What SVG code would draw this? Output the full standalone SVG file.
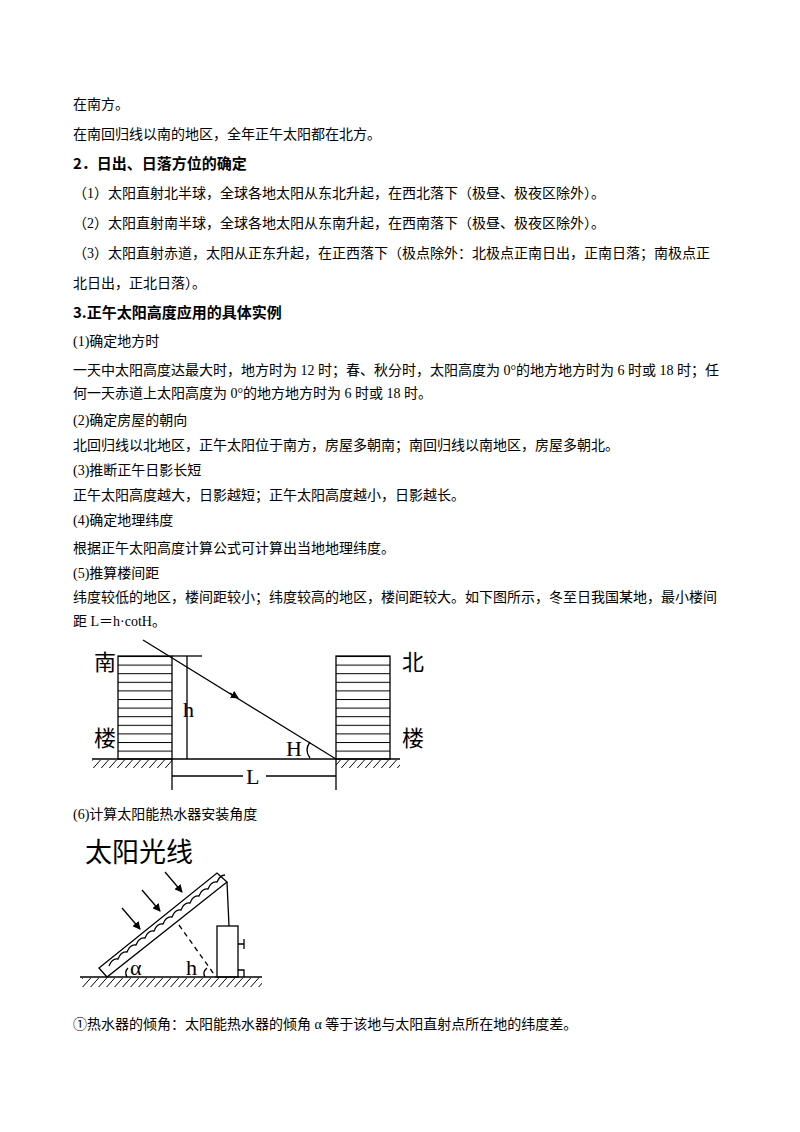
<svg xmlns="http://www.w3.org/2000/svg" width="800" height="1132" viewBox="0 0 800 1132">
<defs>
<style>
.t{font-family:"Liberation Serif","Noto Sans CJK SC",serif;font-size:14px;fill:#000}
.b{font-family:"Noto Sans CJK SC",sans-serif;font-size:15px;font-weight:bold;fill:#000}
.l{stroke:#000;stroke-width:1.3;fill:none}
.f{font-family:"Liberation Serif","Noto Sans CJK SC",serif;font-size:22px;fill:#000}
</style>
<pattern id="hatch" width="8" height="9" patternUnits="userSpaceOnUse"><line x1="8" y1="0" x2="0" y2="9" stroke="#000" stroke-width="1"/></pattern>
<pattern id="floors" x="0" y="656" width="10" height="8.6" patternUnits="userSpaceOnUse"><line x1="0" y1="0.5" x2="10" y2="0.5" stroke="#000" stroke-width="1"/></pattern>
<marker id="ar" markerWidth="8" markerHeight="8" refX="7" refY="4" orient="auto" markerUnits="userSpaceOnUse"><path d="M0,0 L8,4 L0,8 z" fill="#000"/></marker>
</defs>
<rect width="800" height="1132" fill="#fff"/>
<g id="text">
<text class="t" x="73" y="109">在南方。</text>
<text class="t" x="73" y="139">在南回归线以南的地区，全年正午太阳都在北方。</text>
<text class="b" x="73" y="169">2．日出、日落方位的确定</text>
<text class="t" x="73" y="198">（1）太阳直射北半球，全球各地太阳从东北升起，在西北落下（极昼、极夜区除外）。</text>
<text class="t" x="73" y="228">（2）太阳直射南半球，全球各地太阳从东南升起，在西南落下（极昼、极夜区除外）。</text>
<text class="t" x="73" y="258">（3）太阳直射赤道，太阳从正东升起，在正西落下（极点除外：北极点正南日出，正南日落；南极点正</text>
<text class="t" x="73" y="288">北日出，正北日落）。</text>
<text class="b" x="73" y="318">3.正午太阳高度应用的具体实例</text>
<text class="t" x="73" y="346">(1)确定地方时</text>
<text class="t" x="73" y="375">一天中太阳高度达最大时，地方时为 12 时；春、秋分时，太阳高度为 0°的地方地方时为 6 时或 18 时；任</text>
<text class="t" x="73" y="398">何一天赤道上太阳高度为 0°的地方地方时为 6 时或 18 时。</text>
<text class="t" x="73" y="425">(2)确定房屋的朝向</text>
<text class="t" x="73" y="450">北回归线以北地区，正午太阳位于南方，房屋多朝南；南回归线以南地区，房屋多朝北。</text>
<text class="t" x="73" y="475">(3)推断正午日影长短</text>
<text class="t" x="73" y="500">正午太阳高度越大，日影越短；正午太阳高度越小，日影越长。</text>
<text class="t" x="73" y="525">(4)确定地理纬度</text>
<text class="t" x="73" y="553">根据正午太阳高度计算公式可计算出当地地理纬度。</text>
<text class="t" x="73" y="578">(5)推算楼间距</text>
<text class="t" x="73" y="602">纬度较低的地区，楼间距较小；纬度较高的地区，楼间距较大。如下图所示，冬至日我国某地，最小楼间</text>
<text class="t" x="73" y="626">距 L＝h·cotH。</text>
<text class="t" x="73" y="819">(6)计算太阳能热水器安装角度</text>
<text class="t" x="73" y="1029">①热水器的倾角：太阳能热水器的倾角 α 等于该地与太阳直射点所在地的纬度差。</text>
</g>
<g id="fig1">
<rect x="118" y="656" width="54" height="103" style="fill:url(#floors)"/>
<rect x="336" y="656" width="54" height="103" style="fill:url(#floors)"/>
<rect x="118" y="656" width="54" height="103" class="l"/>
<rect x="336" y="656" width="54" height="103" class="l"/>
<rect x="92" y="760" width="80" height="8" fill="url(#hatch)"/>
<rect x="336" y="760" width="64" height="8" fill="url(#hatch)"/>
<line class="l" x1="92" y1="759" x2="400" y2="759"/>
<line class="l" x1="143" y1="640" x2="336" y2="759"/>
<line class="l" x1="230" y1="693" x2="238" y2="698" marker-end="url(#ar)"/>
<line class="l" x1="172" y1="656" x2="202" y2="656"/>
<line class="l" x1="187" y1="656" x2="187" y2="759"/>
<line class="l" x1="172" y1="759" x2="172" y2="790"/>
<line class="l" x1="336" y1="759" x2="336" y2="790"/>
<line class="l" x1="172" y1="776" x2="243" y2="776"/>
<line class="l" x1="266" y1="776" x2="336" y2="776"/>
<path class="l" d="M310,742 Q304,750 310,758"/>
<text class="f" x="94" y="670">南</text>
<text class="f" x="94" y="746">楼</text>
<text class="f" x="402" y="670">北</text>
<text class="f" x="402" y="746">楼</text>
<text class="f" x="183" y="717" font-size="20">h</text>
<text class="f" x="286" y="756" font-size="20">H</text>
<text class="f" x="246" y="784" font-size="20">L</text>
</g>
<g id="fig2">
<text x="85" y="862" style="font-family:'Noto Sans CJK SC',sans-serif;font-size:27px">太阳光线</text>
<rect x="82" y="978" width="180" height="9" fill="url(#hatch)"/>
<line class="l" x1="80" y1="977" x2="262" y2="977"/>
<path class="l" d="M99,968 L217,873 L227,882 L107,977 Z"/>
<path class="l" d="M109,966 q3,-8 9,-7 q3,-8 9,-7 q3,-8 9,-7 q3,-8 9,-7 q3,-8 9,-7 q3,-8 9,-7 q3,-8 9,-7 q3,-8 9,-7 q3,-8 9,-7 q3,-8 9,-7 q3,-8 9,-7 q3,-8 9,-7 q3,-7 8,-7"/>
<line class="l" x1="227" y1="882" x2="229" y2="926"/>
<rect class="l" x="217" y="926" width="21" height="51"/>
<path class="l" d="M238,944 H244 M244,939 V949"/>
<path class="l" d="M238,970 H244 V977"/>
<line class="l" x1="179" y1="925" x2="216" y2="977" stroke-dasharray="5,4"/>
<path class="l" d="M128,968 Q124,972 127,977"/>
<path class="l" d="M207,968 Q202,972 205,977"/>
<line class="l" x1="122" y1="908" x2="140" y2="929" marker-end="url(#ar)"/>
<line class="l" x1="142" y1="890" x2="160" y2="911" marker-end="url(#ar)"/>
<line class="l" x1="165" y1="872" x2="182" y2="892" marker-end="url(#ar)"/>
<text class="f" x="130" y="975" font-size="19">α</text>
<text class="f" x="186" y="975" font-size="19">h</text>
</g>
</svg>
